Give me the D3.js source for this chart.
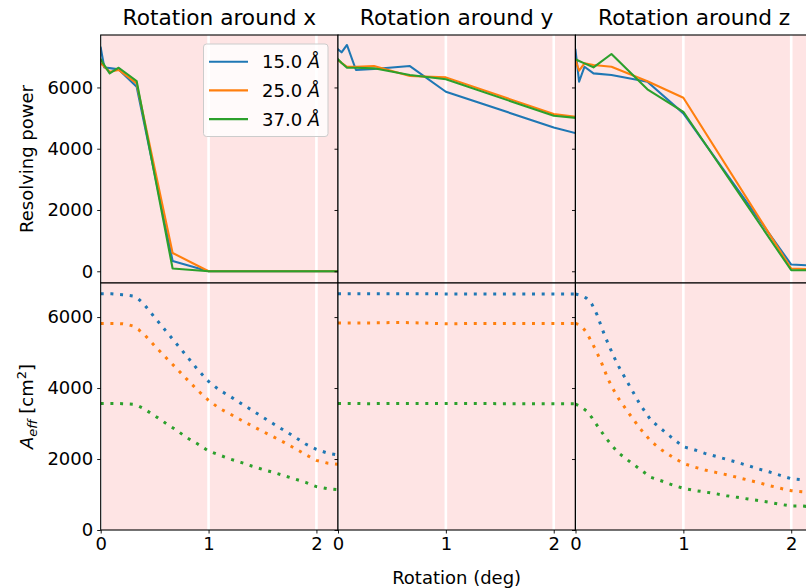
<!DOCTYPE html>
<html><head><meta charset="utf-8">
<script src="https://cdn.jsdelivr.net/npm/d3@7"></script>
<style>body{margin:0;background:#fff}svg{display:block}text{font-family:"DejaVu Sans",sans-serif;fill:#000}</style>
</head><body><svg id="c" width="806" height="588"></svg>
<script>
// ---------- data ----------
const panelTitles = ["Rotation around x", "Rotation around y", "Rotation around z"];
const seriesLabels = ["15.0", "25.0", "37.0"];
const colors = ["#1f77b4", "#ff7f0e", "#2ca02c"];
const xTicks = [0, 1, 2];
const yTicks = [0, 2000, 4000, 6000];

// resolving power (top row)
const topRot = [0, 0.0333, 0.0833, 0.1667, 0.3333, 0.6667, 1, 2, 3];
const resX15 = [7300, 6650, 6630, 6590, 6023, 337, 0, 0, 0];
const resX25 = [6787, 6680, 6514, 6569, 6133, 598, 0, 0, 0];
const resX37 = [6918, 6730, 6460, 6644, 6209, 88, 0, 0, 0];
const resY15 = [7245, 7147, 7386, 6569, 6601, 6699, 5859, 4696, 3766];
const resY25 = [6895, 6800, 6676, 6676, 6699, 6372, 6329, 5131, 4686];
const resY37 = [6918, 6800, 6644, 6644, 6624, 6405, 6265, 5075, 4750];
const resZ15 = [7222, 6186, 6676, 6460, 6405, 6186, 5153, 219, 60];
const resZ25 = [6895, 6546, 6787, 6732, 6676, 6200, 5664, 88, 0];
const resZ37 = [6918, 6865, 6787, 6657, 7091, 5938, 5206, 33, 33];

// effective area (bottom row)
const aeffRot = [0,0.05,0.1,0.15,0.2,0.25,0.3,0.35,0.4,0.5,0.6,0.7,0.8,0.9,1.0,1.1,1.2,1.3,1.4,1.5,1.6,1.7,1.8,1.9,2.0,2.1,2.2];
const aeffX15 = [6656,6656,6656,6640,6628,6615,6592,6510,6366,5991,5624,5258,4892,4516,4188,3944,3765,3568,3380,3183,2995,2808,2620,2423,2273,2169,2113];
const aeffX25 = [5822,5822,5822,5818,5812,5790,5746,5650,5521,5192,4873,4563,4244,3934,3653,3428,3268,3099,2939,2780,2629,2470,2301,2122,1962,1887,1850];
const aeffX37 = [3568,3568,3568,3565,3559,3552,3540,3495,3418,3221,3014,2817,2601,2423,2225,2113,2000,1906,1803,1709,1624,1530,1437,1343,1221,1164,1136];
const aeffY15 = [6656,6656,6656,6656,6656,6656,6656,6656,6656,6656,6656,6656,6656,6656,6650,6650,6650,6650,6650,6650,6650,6650,6650,6650,6650,6650,6650];
const aeffY25 = [5831,5831,5831,5831,5831,5835,5835,5840,5840,5845,5845,5840,5831,5822,5812,5812,5822,5822,5822,5822,5822,5822,5822,5822,5822,5822,5822];
const aeffY37 = [3568,3568,3568,3565,3562,3560,3560,3562,3565,3568,3568,3568,3568,3568,3568,3568,3568,3565,3562,3560,3560,3560,3560,3560,3560,3560,3560];
const aeffZ15 = [6648,6611,6535,6375,6065,5643,5268,4921,4611,4066,3531,3090,2836,2583,2347,2263,2160,2076,1991,1906,1812,1718,1634,1540,1446,1417,1389];
const aeffZ25 = [5822,5765,5577,5296,4995,4648,4262,3963,3699,3268,2855,2498,2254,2056,1878,1775,1690,1624,1558,1483,1408,1333,1249,1174,1108,1080,1052];
const aeffZ37 = [3549,3474,3361,3174,2949,2732,2526,2338,2169,1934,1709,1483,1380,1268,1174,1117,1070,1023,967,920,873,826,779,723,676,676,648];

const topSeries = [[resX15,resX25,resX37],[resY15,resY25,resY37],[resZ15,resZ25,resZ37]];
const botSeries = [[aeffX15,aeffX25,aeffX37],[aeffY15,aeffY25,aeffY37],[aeffZ15,aeffZ25,aeffZ37]];

// ---------- layout ----------
const svg = d3.select("#c");
const colX = [100.7, 338, 575.5];
const colW = 237.3;
const rowTop = [35, 283], rowBot = [283, 530];
const bg = "#fee4e4";
const FS = 18;

const yTop = d3.scaleLinear().domain([-383, 7712]).range([rowTop[1], rowTop[0]]);
const yBot = d3.scaleLinear().domain([0, 6960]).range([rowBot[1], rowBot[0]]);

function panel(ci, ri) {
  const x0 = colX[ci];
  const [t, b] = ri === 0 ? rowTop : rowBot;
  const xs = d3.scaleLinear().domain([0, 2.2]).range([x0, x0 + colW]);
  const ys = ri === 0 ? yTop : yBot;
  const g = svg.append("g");
  const cid = "clip" + ci + ri;
  svg.append("clipPath").attr("id", cid).append("rect")
    .attr("x", x0).attr("y", t).attr("width", colW).attr("height", b - t);
  g.append("rect").attr("x", x0).attr("y", t).attr("width", colW).attr("height", b - t).attr("fill", bg);
  const gc = g.append("g").attr("clip-path", `url(#${cid})`);
  gc.selectAll("line.grid").data(xTicks).join("line")
    .attr("x1", d => xs(d)).attr("x2", d => xs(d)).attr("y1", t).attr("y2", b)
    .attr("stroke", "#fff").attr("stroke-width", 2.6);
  const series = ri === 0 ? topSeries[ci] : botSeries[ci];
  const xv = ri === 0 ? topRot : aeffRot;
  series.forEach((vals, si) => {
    const line = d3.line().x((d, i) => xs(xv[i])).y(d => ys(d));
    const p = gc.append("path").datum(vals).attr("d", line)
      .attr("fill", "none").attr("stroke", colors[si]);
    if (ri === 0) p.attr("stroke-width", 2.1).attr("stroke-linejoin", "round").attr("stroke-linecap", "square");
    else p.attr("stroke-width", 3).attr("stroke-dasharray", "3,6.7");
  });
  const ya = g.append("g").attr("transform", `translate(${x0},0)`)
    .call(d3.axisLeft(ys).tickValues(yTicks).tickSize(3.5).tickPadding(4).tickFormat(ci === 0 ? d3.format("d") : () => ""));
  ya.select(".domain").remove();
  ya.selectAll("line").attr("stroke", "#000").attr("stroke-width", 0.9);
  ya.selectAll("text").style("font-size", FS + "px").attr("font-family", "DejaVu Sans");
  if (ri === 1) {
    const xa = g.append("g").attr("transform", `translate(0,${b})`)
      .call(d3.axisBottom(xs).tickValues(xTicks).tickSize(3.5).tickPadding(4).tickFormat(d3.format("d")));
    xa.select(".domain").remove();
    xa.selectAll("line").attr("stroke", "#000").attr("stroke-width", 0.9);
    xa.selectAll("text").style("font-size", FS + "px").attr("font-family", "DejaVu Sans");
  }
  g.append("rect").attr("x", x0).attr("y", t).attr("width", colW).attr("height", b - t)
    .attr("fill", "none").attr("stroke", "#000").attr("stroke-width", 1.1);
  if (ri === 0) {
    svg.append("text").attr("x", x0 + colW / 2).attr("y", 24.5).attr("text-anchor", "middle")
      .style("font-size", "21.7px").text(panelTitles[ci]);
  }
}
for (let ri = 0; ri < 2; ri++) for (let ci = 0; ci < 3; ci++) panel(ci, ri);

// legend
const lg = svg.append("g");
lg.append("rect").attr("x", 203.5).attr("y", 44).attr("width", 124.5).attr("height", 92.5).attr("rx", 3)
  .attr("fill", "#fff").attr("fill-opacity", 0.8).attr("stroke", "#cccccc").attr("stroke-width", 1);
seriesLabels.forEach((s, i) => {
  const y = 61.7 + i * 28.7;
  lg.append("line").attr("x1", 209).attr("x2", 248).attr("y1", y).attr("y2", y)
    .attr("stroke", colors[i]).attr("stroke-width", 2.1);
  const tx = lg.append("text").attr("x", 262).attr("y", y + 6.5).style("font-size", FS + "px");
  tx.append("tspan").text(s + " ");
  tx.append("tspan").attr("font-style", "italic").text("Å");
});

// axis labels
svg.append("text").attr("transform", `translate(32.5,${(rowTop[0] + rowTop[1]) / 2}) rotate(-90)`)
  .attr("text-anchor", "middle").style("font-size", FS + "px").text("Resolving power");
const al = svg.append("text").attr("transform", `translate(32.5,${(rowBot[0] + rowBot[1]) / 2}) rotate(-90)`)
  .attr("text-anchor", "middle").style("font-size", FS + "px");
al.append("tspan").attr("font-style", "italic").text("A");
al.append("tspan").attr("font-style", "italic").attr("dy", 4).style("font-size", "13px").text("eff");
al.append("tspan").attr("dy", -4).text(" [cm");
al.append("tspan").attr("dy", -7).style("font-size", "13px").text("2");
al.append("tspan").attr("dy", 7).text("]");
svg.append("text").attr("x", (colX[1] + colX[1] + colW) / 2).attr("y", 583.5).attr("text-anchor", "middle")
  .style("font-size", FS + "px").text("Rotation (deg)");
</script></body></html>
